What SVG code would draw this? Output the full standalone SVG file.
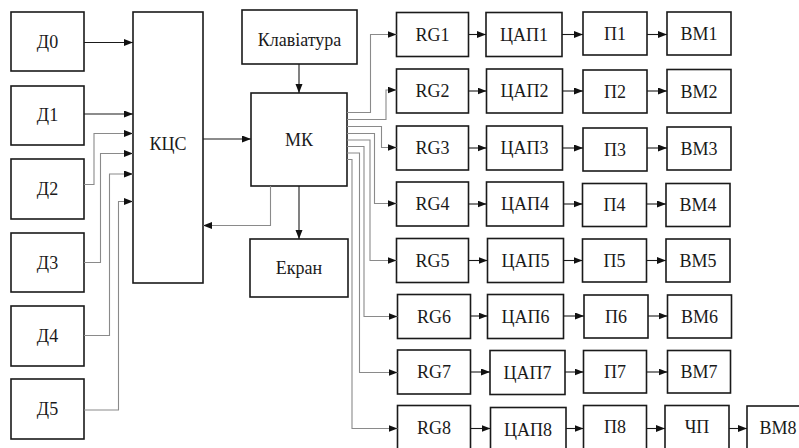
<svg xmlns="http://www.w3.org/2000/svg" width="799" height="448" viewBox="0 0 799 448">
<style>
rect{fill:#fff;stroke:#1a1a1a;stroke-width:1.6}
.c path{fill:none;stroke-width:1.1;marker-end:url(#a)}
.k{stroke:#1a1a1a}
.g{stroke:#8a8a8a}
</style>
<defs>
<marker id="a" markerUnits="userSpaceOnUse" markerWidth="10" markerHeight="8" refX="9" refY="3.5" orient="auto">
<path d="M0,0 L9,3.5 L0,7 z" fill="#111"/>
</marker>
</defs>
<rect width="799" height="448" style="stroke:none"/>
<g id="D0"><rect x="11" y="12" width="73" height="59"/><text font-family="Liberation Serif" font-size="18" text-anchor="middle" fill="#1a1a1a" x="47.5" y="48">Д0</text></g>
<g id="D1"><rect x="11" y="86" width="73" height="59"/><text font-family="Liberation Serif" font-size="18" text-anchor="middle" fill="#1a1a1a" x="47.5" y="121">Д1</text></g>
<g id="D2"><rect x="11" y="159" width="73" height="60"/><text font-family="Liberation Serif" font-size="18" text-anchor="middle" fill="#1a1a1a" x="47.5" y="195">Д2</text></g>
<g id="D3"><rect x="11" y="233" width="73" height="59"/><text font-family="Liberation Serif" font-size="18" text-anchor="middle" fill="#1a1a1a" x="47.5" y="269">Д3</text></g>
<g id="D4"><rect x="11" y="306" width="73" height="60"/><text font-family="Liberation Serif" font-size="18" text-anchor="middle" fill="#1a1a1a" x="47.5" y="342">Д4</text></g>
<g id="D5"><rect x="11" y="379" width="73" height="60"/><text font-family="Liberation Serif" font-size="18" text-anchor="middle" fill="#1a1a1a" x="47.5" y="415">Д5</text></g>
<g id="KCS"><rect x="133" y="12" width="70" height="271"/><text font-family="Liberation Serif" font-size="18" text-anchor="middle" fill="#1a1a1a" x="168" y="150">КЦС</text></g>
<g id="Klav"><rect x="242" y="10" width="115" height="54"/><text font-family="Liberation Serif" font-size="18" text-anchor="middle" fill="#1a1a1a" x="299.5" y="46">Клавіатура</text></g>
<g id="MK"><rect x="251" y="93" width="96" height="93"/><text font-family="Liberation Serif" font-size="18" text-anchor="middle" fill="#1a1a1a" x="299" y="146">МК</text></g>
<g id="Ekran"><rect x="250" y="239" width="98" height="58"/><text font-family="Liberation Serif" font-size="18" text-anchor="middle" fill="#1a1a1a" x="299" y="274">Екран</text></g>

<g id="row1"><rect x="396.5" y="12.5" width="72" height="44"/><text font-family="Liberation Serif" font-size="18" text-anchor="middle" fill="#1a1a1a" x="432.5" y="40.5">RG1</text>
<rect x="486" y="12.5" width="76" height="44"/><text font-family="Liberation Serif" font-size="18" text-anchor="middle" fill="#1a1a1a" x="524" y="40.5">ЦАП1</text>
<rect x="583" y="12" width="64" height="43"/><text font-family="Liberation Serif" font-size="18" text-anchor="middle" fill="#1a1a1a" x="615" y="40">П1</text>
<rect x="667" y="12" width="64" height="43"/><text font-family="Liberation Serif" font-size="18" text-anchor="middle" fill="#1a1a1a" x="699" y="40">ВМ1</text></g>
<g id="row2"><rect x="396.5" y="69" width="72" height="44"/><text font-family="Liberation Serif" font-size="18" text-anchor="middle" fill="#1a1a1a" x="432.5" y="97">RG2</text>
<rect x="486.5" y="69" width="76" height="44"/><text font-family="Liberation Serif" font-size="18" text-anchor="middle" fill="#1a1a1a" x="524.5" y="97">ЦАП2</text>
<rect x="583" y="70" width="64" height="43"/><text font-family="Liberation Serif" font-size="18" text-anchor="middle" fill="#1a1a1a" x="615" y="97.5">П2</text>
<rect x="667" y="69.5" width="64" height="43.5"/><text font-family="Liberation Serif" font-size="18" text-anchor="middle" fill="#1a1a1a" x="699" y="97.5">ВМ2</text></g>
<g id="row3"><rect x="396.5" y="126" width="72" height="44"/><text font-family="Liberation Serif" font-size="18" text-anchor="middle" fill="#1a1a1a" x="432.5" y="154">RG3</text>
<rect x="486.5" y="126" width="76" height="44"/><text font-family="Liberation Serif" font-size="18" text-anchor="middle" fill="#1a1a1a" x="524.5" y="154">ЦАП3</text>
<rect x="583" y="128" width="64" height="43"/><text font-family="Liberation Serif" font-size="18" text-anchor="middle" fill="#1a1a1a" x="615" y="155.5">П3</text>
<rect x="667" y="127" width="64" height="43"/><text font-family="Liberation Serif" font-size="18" text-anchor="middle" fill="#1a1a1a" x="699" y="154.5">ВМ3</text></g>
<g id="row4"><rect x="396.5" y="182" width="72" height="44"/><text font-family="Liberation Serif" font-size="18" text-anchor="middle" fill="#1a1a1a" x="432.5" y="210">RG4</text>
<rect x="486.5" y="182" width="77" height="44"/><text font-family="Liberation Serif" font-size="18" text-anchor="middle" fill="#1a1a1a" x="525" y="210">ЦАП4</text>
<rect x="582.5" y="183.5" width="64" height="43"/><text font-family="Liberation Serif" font-size="18" text-anchor="middle" fill="#1a1a1a" x="614.5" y="211">П4</text>
<rect x="666" y="183.5" width="64" height="43"/><text font-family="Liberation Serif" font-size="18" text-anchor="middle" fill="#1a1a1a" x="698" y="211">ВМ4</text></g>
<g id="row5"><rect x="396.5" y="238.5" width="72" height="44"/><text font-family="Liberation Serif" font-size="18" text-anchor="middle" fill="#1a1a1a" x="432.5" y="266.5">RG5</text>
<rect x="487.5" y="238.5" width="76" height="44"/><text font-family="Liberation Serif" font-size="18" text-anchor="middle" fill="#1a1a1a" x="525.5" y="266.5">ЦАП5</text>
<rect x="582.5" y="239" width="64" height="43"/><text font-family="Liberation Serif" font-size="18" text-anchor="middle" fill="#1a1a1a" x="614.5" y="266.5">П5</text>
<rect x="666" y="239" width="64" height="43"/><text font-family="Liberation Serif" font-size="18" text-anchor="middle" fill="#1a1a1a" x="698" y="266.5">ВМ5</text></g>
<g id="row6"><rect x="397.5" y="294.5" width="73" height="44"/><text font-family="Liberation Serif" font-size="18" text-anchor="middle" fill="#1a1a1a" x="434" y="322.5">RG6</text>
<rect x="487.5" y="294.5" width="76" height="44"/><text font-family="Liberation Serif" font-size="18" text-anchor="middle" fill="#1a1a1a" x="525.5" y="323">ЦАП6</text>
<rect x="584" y="295" width="64" height="43"/><text font-family="Liberation Serif" font-size="18" text-anchor="middle" fill="#1a1a1a" x="616" y="322.5">П6</text>
<rect x="667.5" y="295" width="64" height="43"/><text font-family="Liberation Serif" font-size="18" text-anchor="middle" fill="#1a1a1a" x="699.5" y="322.5">ВМ6</text></g>
<g id="row7"><rect x="397.5" y="350" width="73" height="44"/><text font-family="Liberation Serif" font-size="18" text-anchor="middle" fill="#1a1a1a" x="434" y="378">RG7</text>
<rect x="490" y="350.5" width="75" height="44"/><text font-family="Liberation Serif" font-size="18" text-anchor="middle" fill="#1a1a1a" x="527.5" y="378.5">ЦАП7</text>
<rect x="583.5" y="350.5" width="63" height="42.5"/><text font-family="Liberation Serif" font-size="18" text-anchor="middle" fill="#1a1a1a" x="615" y="378">П7</text>
<rect x="667.5" y="350.5" width="63" height="42.5"/><text font-family="Liberation Serif" font-size="18" text-anchor="middle" fill="#1a1a1a" x="699" y="378">ВМ7</text></g>
<g id="row8"><rect x="397.5" y="405.5" width="73" height="44"/><text font-family="Liberation Serif" font-size="18" text-anchor="middle" fill="#1a1a1a" x="434" y="434">RG8</text>
<rect x="490.5" y="407.5" width="75.5" height="44"/><text font-family="Liberation Serif" font-size="18" text-anchor="middle" fill="#1a1a1a" x="528" y="435.5">ЦАП8</text>
<rect x="583.5" y="405.5" width="63" height="44"/><text font-family="Liberation Serif" font-size="18" text-anchor="middle" fill="#1a1a1a" x="615" y="433">П8</text>
<rect x="665" y="405.5" width="64" height="44"/><text font-family="Liberation Serif" font-size="18" text-anchor="middle" fill="#1a1a1a" x="697" y="433">ЧП</text>
<rect x="747" y="406" width="64" height="44"/><text font-family="Liberation Serif" font-size="18" text-anchor="middle" fill="#1a1a1a" x="778" y="434">ВМ8</text></g>

<g id="connectors" class="c">
<path class="k" d="M84,42.5 H133"/>
<path class="k" d="M84,114 H133"/>
<path class="g" d="M84,184.5 H94 V133.5 H133"/>
<path class="g" d="M84,262.5 H100.5 V153.5 H133"/>
<path class="g" d="M84,335.5 H109.5 V174 H133"/>
<path class="g" d="M84,410 H118.5 V201.5 H133"/>
<path class="k" d="M203,139 H251"/>
<path class="k" d="M299,64 V93"/>
<path class="g" d="M270.5,186 V225.5 H203"/>
<path class="k" d="M299,186 V239"/>
<path class="g" d="M347,112.5 H370.5 V34.5 H396.5"/>
<path class="g" d="M347,119.5 H386 V90 H396.5"/>
<path class="g" d="M347,126.5 H381.5 V147.5 H396.5"/>
<path class="g" d="M347,133.5 H374.5 V203.5 H396.5"/>
<path class="g" d="M347,140 H370 V260.5 H396.5"/>
<path class="g" d="M347,146.5 H364 V316.5 H397.5"/>
<path class="g" d="M347,153 H359.5 V372.5 H397.5"/>
<path class="g" d="M347,159.5 H352 V428.5 H397.5"/>
<path class="k" d="M468.5,34.5 H486"/><path class="k" d="M562,34.5 H583"/><path class="k" d="M647,34.5 H667"/>
<path class="k" d="M468.5,91 H486.5"/><path class="k" d="M562.5,91 H583"/><path class="k" d="M647,91 H667"/>
<path class="k" d="M468.5,148 H486.5"/><path class="k" d="M562.5,148 H583"/><path class="k" d="M647,148 H667"/>
<path class="k" d="M468.5,204 H486.5"/><path class="k" d="M563.5,204 H582.5"/><path class="k" d="M646.5,204 H666"/>
<path class="k" d="M468.5,260.5 H487.5"/><path class="k" d="M563.5,260.5 H582.5"/><path class="k" d="M646.5,260.5 H666"/>
<path class="k" d="M470.5,316 H487.5"/><path class="k" d="M563.5,316 H584"/><path class="k" d="M648,316 H667.5"/>
<path class="k" d="M470.5,372 H490"/><path class="k" d="M565,372 H583.5"/><path class="k" d="M646.5,372 H667.5"/>
<path class="k" d="M470.5,428.5 H490.5"/><path class="k" d="M566,428.5 H583.5"/><path class="k" d="M646.5,428.5 H665"/><path class="k" d="M729,428.5 H747"/>
</g>
</svg>
